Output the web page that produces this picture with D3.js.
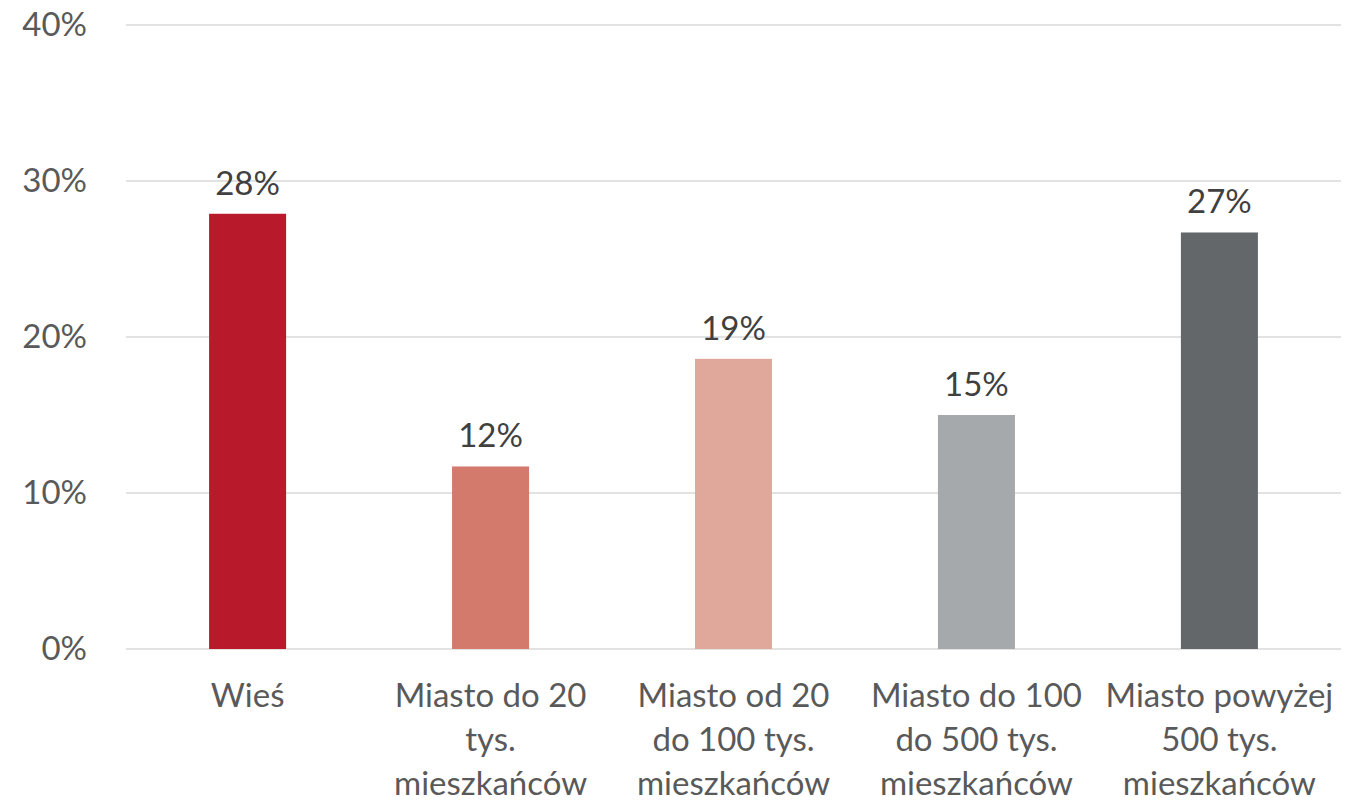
<!DOCTYPE html>
<html><head><meta charset="utf-8">
<script src="https://cdn.jsdelivr.net/npm/d3@7"></script>
<style>
html,body{margin:0;padding:0;background:#fff;}
svg text{font-family:Lato,"Open Sans",sans-serif;}
</style></head>
<body>
<svg id="chart" width="1367" height="802"></svg>
<script>
const categories = [
  ["Wieś"],
  ["Miasto do 20", "tys.", "mieszkańców"],
  ["Miasto od 20", "do 100 tys.", "mieszkańców"],
  ["Miasto do 100", "do 500 tys.", "mieszkańców"],
  ["Miasto powyżej", "500 tys.", "mieszkańców"]
];
const values = [0.279, 0.117, 0.186, 0.150, 0.267];
const valueLabels = ["28%", "12%", "19%", "15%", "27%"];
const colors = ["#B81A2B", "#D37A6C", "#E0A89B", "#A5A9AC", "#63676A"];
const yTicks = [0, 0.1, 0.2, 0.3, 0.4];

const svg = d3.select("#chart");
const mLeft = 126, mRight = 1341, mTop = 25, mBottom = 649;
const fs = 33;

const x = d3.scaleBand().domain(d3.range(values.length)).range([mLeft, mRight]).paddingInner(0.683).paddingOuter(0.342);
const y = d3.scaleLinear().domain([0, 0.4]).range([mBottom, mTop]);

// gridlines
svg.append("g").selectAll("line").data(yTicks).join("line")
  .attr("x1", mLeft).attr("x2", mRight)
  .attr("y1", d => y(d)).attr("y2", d => y(d))
  .attr("stroke", "#D9D9D9").attr("stroke-width", 1.5);

// y axis labels
const yAxis = d3.axisLeft(y).tickValues(yTicks).tickFormat(d3.format(".0%")).tickSize(0).tickPadding(0);
const gy = svg.append("g").attr("transform", "translate(87,0)").call(yAxis);
gy.select(".domain").remove();
gy.selectAll("text").attr("font-size", fs).attr("fill", "#595959").attr("font-family", "Lato, sans-serif");

// bars
svg.append("g").selectAll("rect").data(values).join("rect")
  .attr("x", (d, i) => x(i)).attr("width", x.bandwidth())
  .attr("y", d => y(d)).attr("height", d => y(0) - y(d))
  .attr("fill", (d, i) => colors[i]);

// value labels
svg.append("g").selectAll("text").data(values).join("text")
  .attr("x", (d, i) => x(i) + x.bandwidth() / 2)
  .attr("y", d => y(d) - 19)
  .attr("text-anchor", "middle")
  .attr("font-size", fs).attr("fill", "#404040")
  .text((d, i) => valueLabels[i]);

// category labels
const cg = svg.append("g").selectAll("text").data(categories).join("text")
  .attr("x", (d, i) => x(i) + x.bandwidth() / 2)
  .attr("y", 707)
  .attr("text-anchor", "middle")
  .attr("font-size", fs).attr("fill", "#595959");
cg.selectAll("tspan").data(d => d).join("tspan")
  .attr("x", function() { return d3.select(this.parentNode).attr("x"); })
  .attr("dy", (d, j) => j === 0 ? 0 : 44)
  .text(d => d);
</script>
</body></html>
